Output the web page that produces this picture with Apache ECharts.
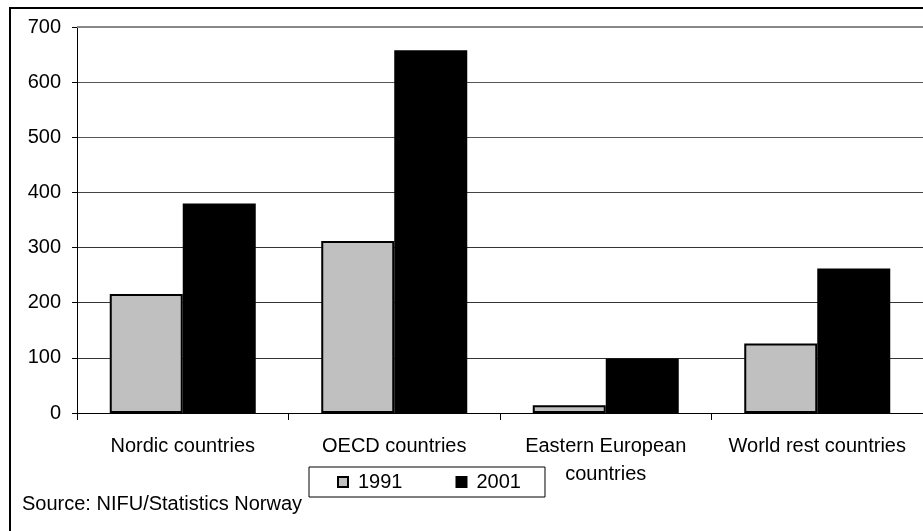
<!DOCTYPE html>
<html>
<head>
<meta charset="utf-8">
<script src="https://cdn.jsdelivr.net/npm/echarts@6/dist/echarts.min.js"></script>
<style>
  html, body { margin: 0; padding: 0; background: #ffffff; }
  #chart { width: 923px; height: 531px; }
</style>
</head>
<body>
<div id="chart"></div>
<script>
// Students abroad by region of study, 1991 vs 2001
const categories = ['Nordic countries', 'OECD countries', 'Eastern European\ncountries', 'World rest countries'];
const values1991 = [216, 312, 14, 126];
const values2001 = [380, 658, 99, 262];
const yTicks = [0, 100, 200, 300, 400, 500, 600, 700];
const sourceNote = 'Source: NIFU/Statistics Norway';

const FONT = '"Liberation Sans", Arial, sans-serif';
const chart = echarts.init(document.getElementById('chart'), null, { renderer: 'canvas' });

chart.setOption({
  backgroundColor: '#ffffff',
  animation: false,
  textStyle: { fontFamily: FONT, color: '#000' },
  grid: { left: 77, top: 27, right: -5, bottom: 118 },
  legend: {
    data: ['1991', '2001'],
    left: 309,
    top: 467,
    orient: 'horizontal',
    padding: [5, 24, 5, 28],
    itemGap: 53,
    itemWidth: 10,
    itemHeight: 10,
    icon: 'rect',
    borderColor: '#000',
    borderWidth: 1,
    textStyle: { fontFamily: FONT, fontSize: 20, color: '#000', padding: [0, 0, 0, 5] }
  },
  xAxis: {
    type: 'category',
    data: categories,
    axisLine: { lineStyle: { color: '#000', width: 1 } },
    axisTick: { show: true, length: 7, lineStyle: { color: '#000' } },
    axisLabel: { fontFamily: FONT, fontSize: 20, color: '#000', margin: 19, lineHeight: 28, interval: 0 }
  },
  yAxis: {
    type: 'value',
    min: yTicks[0],
    max: yTicks[yTicks.length - 1],
    interval: 100,
    axisLine: { show: true, lineStyle: { color: '#000', width: 1 } },
    axisTick: { show: true, length: 5, lineStyle: { color: '#000' } },
    axisLabel: { fontFamily: FONT, fontSize: 20, color: '#000', margin: 16 },
    splitLine: { show: true, lineStyle: { color: ['#333', '#333', '#333', '#333', '#444', '#555', '#555', '#888'], width: 1 } }
  },
  series: [
    {
      name: '1991',
      type: 'bar',
      data: values1991,
      barWidth: 73,
      barGap: '0%',
      itemStyle: { color: '#c0c0c0', borderColor: '#000', borderWidth: 2 },
      markLine: {
        silent: true,
        symbol: 'none',
        label: { show: false },
        lineStyle: { color: '#888', width: 2, type: 'solid' },
        data: [{ yAxis: yTicks[yTicks.length - 1] }]
      }
    },
    {
      name: '2001',
      type: 'bar',
      data: values2001,
      barWidth: 73,
      barGap: '0%',
      itemStyle: { color: '#000000', borderColor: '#000', borderWidth: 2 }
    }
  ],
  graphic: [
    {
      type: 'rect',
      shape: { x: 10, y: 8, width: 1000, height: 1000 },
      style: { fill: 'none', stroke: '#000', lineWidth: 2 },
      silent: true,
      z: 10
    },
    {
      type: 'text',
      left: 22,
      top: 494,
      style: { text: sourceNote, font: '20px ' + FONT, fill: '#000' }
    }
  ]
});
</script>
</body>
</html>
